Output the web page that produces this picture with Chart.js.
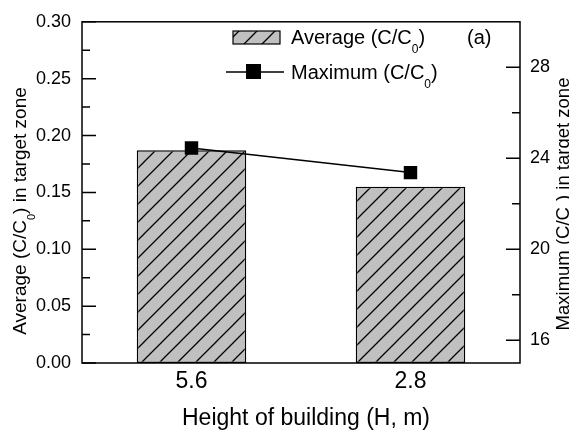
<!DOCTYPE html>
<html>
<head>
<meta charset="utf-8">
<script src="https://cdn.jsdelivr.net/npm/chart.js@4.4.1/dist/chart.umd.min.js"></script>
<style>
  html, body { margin: 0; padding: 0; background: #fff; }
  canvas { display: block; }
</style>
</head>
<body>
<canvas id="chart" width="569" height="431"></canvas>
<script>
// Building height categories and the two concentration series
const categories = ['5.6', '2.8'];
const averageValues = [0.187, 0.155];   // Average (C/C0), left axis
const maximumValues = [24.45, 23.37];   // Maximum (C/C0), right axis

// Axis ranges and tick labels
const leftRange = [0, 0.30];
const leftTicks = [0, 0.05, 0.10, 0.15, 0.20, 0.25, 0.30];
const rightRange = [15, 30];
const rightTicks = [16, 20, 24, 28];

const FONT = '"Liberation Sans", Arial, Helvetica, sans-serif';

// Minor ticks sit halfway between major ticks
function midpoints(ticks) {
  const out = [];
  for (let i = 0; i < ticks.length - 1; i++) out.push((ticks[i] + ticks[i + 1]) / 2);
  return out;
}
const leftMinor = midpoints(leftTicks);
const rightMinor = midpoints(rightTicks);

// Gray fill with diagonal "/" hatching
function hatchPattern() {
  const s = 18;
  const c = document.createElement('canvas');
  c.width = s; c.height = s;
  const g = c.getContext('2d');
  g.fillStyle = '#c0c0c0';
  g.fillRect(0, 0, s, s);
  g.strokeStyle = '#000';
  g.lineWidth = 1.3;
  g.beginPath();
  g.moveTo(0, s); g.lineTo(s, 0);
  g.moveTo(-3, 3); g.lineTo(3, -3);
  g.moveTo(s - 3, s + 3); g.lineTo(s + 3, s - 3);
  g.stroke();
  return g.createPattern(c, 'repeat');
}
const hatch = hatchPattern();

// Text with a subscript part: parts = [{t, sub}]
function richWidth(ctx, parts, size) {
  let w = 0;
  parts.forEach(p => {
    ctx.font = (p.sub ? Math.round(size * 0.6) : size) + 'px ' + FONT;
    w += ctx.measureText(p.t).width;
  });
  return w;
}
function drawRich(ctx, parts, x, y, size, align) {
  let cx = align === 'center' ? x - richWidth(ctx, parts, size) / 2 : x;
  ctx.textBaseline = 'alphabetic';
  ctx.textAlign = 'left';
  parts.forEach(p => {
    const fs = p.sub ? Math.round(size * 0.6) : size;
    ctx.font = fs + 'px ' + FONT;
    ctx.fillText(p.t, cx, y + (p.sub ? size * 0.45 : 0));
    cx += ctx.measureText(p.t).width;
  });
}

const avgLabel = [{ t: 'Average (C/C' }, { t: '0', sub: true }, { t: ')' }];
const maxLabel = [{ t: 'Maximum (C/C' }, { t: '0', sub: true }, { t: ')' }];
const leftTitle = [{ t: 'Average (C/C' }, { t: '0', sub: true }, { t: ') in target zone' }];
const rightTitle = [{ t: 'Maximum (C/C' }, { t: '0', sub: true }, { t: ') in target zone' }];

// Plot frame with inward major/minor ticks
const framePlugin = {
  id: 'frame',
  afterDatasetsDraw(chart) {
    const { ctx, chartArea: a, scales } = chart;
    ctx.save();
    ctx.strokeStyle = '#000';
    ctx.lineWidth = 1.5;
    ctx.strokeRect(a.left, a.top, a.right - a.left, a.bottom - a.top);
    ctx.beginPath();
    leftTicks.forEach(v => { const y = scales.y.getPixelForValue(v); ctx.moveTo(a.left, y); ctx.lineTo(a.left + 14, y); });
    leftMinor.forEach(v => { const y = scales.y.getPixelForValue(v); ctx.moveTo(a.left, y); ctx.lineTo(a.left + 8, y); });
    rightTicks.forEach(v => { const y = scales.y2.getPixelForValue(v); ctx.moveTo(a.right, y); ctx.lineTo(a.right - 14, y); });
    rightMinor.forEach(v => { const y = scales.y2.getPixelForValue(v); ctx.moveTo(a.right, y); ctx.lineTo(a.right - 8, y); });
    ctx.stroke();
    ctx.restore();
  }
};

// Axis titles, legend and panel tag
const annotatePlugin = {
  id: 'annotate',
  afterDraw(chart) {
    const { ctx, chartArea: a } = chart;
    const ds = chart.data.datasets;
    const lineDs = ds[0], barDs = ds[1];
    ctx.save();
    ctx.fillStyle = '#000';

    // x-axis title
    drawRich(ctx, [{ t: 'Height of building (H, m)' }], (a.left + a.right) / 2 + 5, 425, 23, 'center');

    // left title (rotated)
    ctx.save();
    ctx.translate(26, 211);
    ctx.rotate(-Math.PI / 2);
    drawRich(ctx, leftTitle, 0, 0, 19, 'center');
    ctx.restore();

    // right title (rotated)
    ctx.save();
    ctx.translate(569, 204);
    ctx.rotate(-Math.PI / 2);
    drawRich(ctx, rightTitle, 0, 0, 18.5, 'center');
    ctx.restore();

    // legend: bar swatch
    ctx.fillStyle = barDs.backgroundColor;
    ctx.fillRect(233, 31, 47, 13);
    ctx.strokeStyle = barDs.borderColor;
    ctx.lineWidth = 1.2;
    ctx.strokeRect(233, 31, 47, 13);
    ctx.fillStyle = '#000';
    drawRich(ctx, avgLabel, 291, 44, 20, 'left');

    // legend: line + marker
    ctx.strokeStyle = lineDs.borderColor;
    ctx.lineWidth = lineDs.borderWidth;
    ctx.beginPath();
    ctx.moveTo(226, 72); ctx.lineTo(284, 72);
    ctx.stroke();
    ctx.fillStyle = lineDs.pointBackgroundColor;
    ctx.fillRect(246, 64, 15, 15);
    ctx.fillStyle = '#000';
    drawRich(ctx, maxLabel, 291, 79, 20, 'left');

    // panel tag
    drawRich(ctx, [{ t: '(a)' }], 467, 44, 20, 'left');
    ctx.restore();
  }
};

new Chart(document.getElementById('chart'), {
  type: 'bar',
  data: {
    labels: categories,
    datasets: [
      {
        type: 'line',
        label: 'Maximum (C/C0)',
        data: maximumValues,
        yAxisID: 'y2',
        borderColor: '#000',
        borderWidth: 1.5,
        pointStyle: 'rect',
        pointRadius: 9.5,
        pointBackgroundColor: '#000',
        pointBorderColor: '#000',
        pointBorderWidth: 0,
        tension: 0,
        order: 0
      },
      {
        type: 'bar',
        label: 'Average (C/C0)',
        data: averageValues,
        yAxisID: 'y',
        backgroundColor: hatch,
        borderColor: '#000',
        borderWidth: 1.5,
        borderSkipped: false,
        categoryPercentage: 1,
        barPercentage: 0.5,
        order: 1
      }
    ]
  },
  options: {
    responsive: false,
    animation: false,
    devicePixelRatio: 1,
    layout: { padding: { top: 16, left: 0, right: 0, bottom: 0 } },
    plugins: { legend: { display: false }, tooltip: { enabled: false } },
    scales: {
      x: {
        type: 'category',
        offset: true,
        grid: { display: false, drawTicks: false },
        border: { display: false },
        ticks: { font: { family: FONT, size: 23 }, color: '#000', padding: 5, maxRotation: 0 },
        afterFit: s => { s.height = 68; }
      },
      y: {
        position: 'left',
        min: leftRange[0],
        max: leftRange[1],
        grid: { display: false, drawTicks: false },
        border: { display: false },
        ticks: {
          font: { family: FONT, size: 18 }, color: '#000', padding: 11,
          callback: v => Number(v).toFixed(2)
        },
        afterBuildTicks: s => { s.ticks = leftTicks.map(v => ({ value: v })); },
        afterFit: s => { s.width = 82; }
      },
      y2: {
        position: 'right',
        min: rightRange[0],
        max: rightRange[1],
        grid: { display: false, drawTicks: false },
        border: { display: false },
        ticks: { font: { family: FONT, size: 18 }, color: '#000', padding: 10 },
        afterBuildTicks: s => { s.ticks = rightTicks.map(v => ({ value: v })); },
        afterFit: s => { s.width = 49; }
      }
    }
  },
  plugins: [framePlugin, annotatePlugin]
});
</script>
</body>
</html>
